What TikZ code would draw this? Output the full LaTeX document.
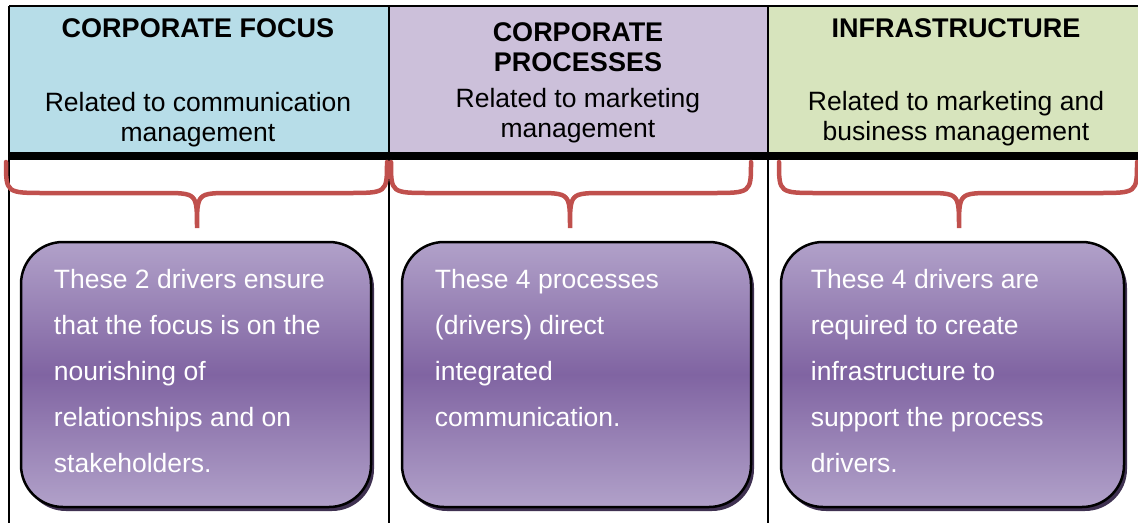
\documentclass[tikz,border=0pt]{standalone}
\usepackage{fontspec}
\setmainfont{Liberation Sans}
\usetikzlibrary{calc}
\usetikzlibrary{shadows}

\definecolor{focusblue}{HTML}{B7DDE8}
\definecolor{procpurple}{HTML}{CCC0DA}
\definecolor{infragreen}{HTML}{D7E4BD}
\definecolor{bracered}{HTML}{C0504D}
\definecolor{drvlight}{HTML}{B1A1C9}
\definecolor{drvdark}{HTML}{8064A2}
\definecolor{drvshadow}{HTML}{3F3151}

% curly brace under a column: left end, tip, right end
\newcommand{\colbrace}[3]{%
    \draw[brace] (#1,162) .. controls (#1,193) .. ({#1+40},193) -- ({#2-35},193)
        .. controls (#2,193) .. (#2,228) .. controls (#2,193) .. ({#2+35},193)
        -- ({#3-40},193) .. controls (#3,193) .. (#3,162);
}

\begin{document}
\begin{tikzpicture}[x=1pt, y=-1pt,
        headbold/.style={anchor=base, align=center, inner sep=0pt,
            font=\fontsize{27}{30}\selectfont\bfseries},
        headtext/.style={anchor=base, align=center, inner sep=0pt,
            font=\fontsize{26.5}{30}\selectfont},
        brace/.style={draw=bracered, line width=4.5pt, line cap=round},
        driver/.style={draw=black, line width=2.5pt, rounded corners=42pt,
            minimum height=265pt, inner sep=0pt,
            top color=drvlight, bottom color=drvlight, middle color=drvdark,
            drop shadow={shadow xshift=3pt, shadow yshift=-4pt,
                fill=drvshadow, opacity=1}},
        drvtext/.style={anchor=base west, align=left, inner sep=0pt,
            text=white, font=\fontsize{26.5}{46}\selectfont}]
    \useasboundingbox (0,0) rectangle (1138,523);

    % header cells
    \fill[focusblue] (9,6) rectangle (389,156);
    \fill[procpurple] (389,6) rectangle (768,156);
    \fill[infragreen] (768,6) rectangle (1138,156);

    \draw[line width=2pt] (9,6) -- (1138,6);
    \draw[line width=2pt] (9,6) -- (9,523);
    \draw[line width=2pt] (389,6) -- (389,523);
    \draw[line width=2pt] (768,6) -- (768,523);
    \draw[line width=8pt] (9,156) -- (1138,156);

    % (base of a multi-line node = its last line)
    \node[headbold] (focus) at (198,37) {CORPORATE FOCUS};
    \node[headtext] (focusrel) at (198,141) {Related to communication\\management};

    \node[headbold] (procs) at (578,71) {CORPORATE\\PROCESSES};
    \node[headtext] (procsrel) at (578,137) {Related to marketing\\management};

    \node[headbold] (infra) at (956,37) {INFRASTRUCTURE};
    \node[headtext] (infrarel) at (956,140) {Related to marketing and\\business management};

    % braces
    \colbrace{6}{197}{387}
    \colbrace{391}{570}{751}
    \colbrace{779}{959}{1137}

    % driver boxes
    \node[driver, minimum width=350pt] (drvfocus) at (196,374.5) {};
    \node[driver, minimum width=349pt] (drvprocs) at (576.5,374.5) {};
    \node[driver, minimum width=343pt] (drvinfra) at (952.5,374.5) {};

    \node[drvtext] (txtfocus) at ([xshift=34pt,yshift=-232pt]drvfocus.north west)
        {These 2 drivers ensure\\that the focus is on the\\nourishing of\\relationships and on\\stakeholders.};
    \node[drvtext] (txtprocs) at ([xshift=34pt,yshift=-186pt]drvprocs.north west)
        {These 4 processes\\(drivers) direct\\integrated\\communication.};
    \node[drvtext] (txtinfra) at ([xshift=31pt,yshift=-232pt]drvinfra.north west)
        {These 4 drivers are\\required to create\\infrastructure to\\support the process\\drivers.};
\end{tikzpicture}
\end{document}
